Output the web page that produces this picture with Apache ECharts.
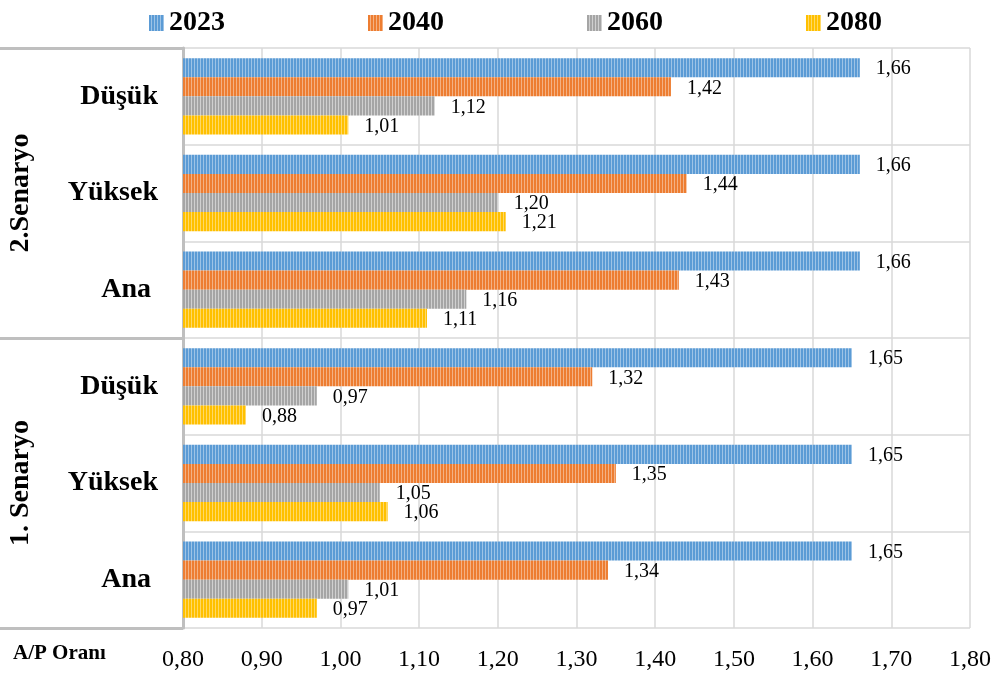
<!DOCTYPE html>
<html>
<head>
<meta charset="utf-8">
<script src="https://cdn.jsdelivr.net/npm/echarts@6/dist/echarts.min.js"></script>
<style>
html,body{margin:0;padding:0;background:#fff;}
#main{width:1002px;height:677px;}
</style>
</head>
<body>
<div id="main"></div>
<script>
// ---- data (categories bottom -> top) ----
var groupNames = ['1. Senaryo', '2.Senaryo'];
var levelNames = ['Ana', 'Yüksek', 'Düşük'];
var seriesNames = ['2023', '2040', '2060', '2080'];
var v2023 = [1.65, 1.65, 1.65, 1.66, 1.66, 1.66];
var v2040 = [1.34, 1.35, 1.32, 1.43, 1.44, 1.42];
var v2060 = [1.01, 1.05, 0.97, 1.16, 1.20, 1.12];
var v2080 = [0.97, 1.06, 0.88, 1.11, 1.21, 1.01];
var xTicks = [0.8, 0.9, 1.0, 1.1, 1.2, 1.3, 1.4, 1.5, 1.6, 1.7, 1.8];
var axisTitle = 'A/P Oranı';

var categories = [];
groupNames.forEach(function (g) {
  levelNames.forEach(function (l) { categories.push(g + '|' + l); });
});
var seriesValues = [v2023, v2040, v2060, v2080];

var baseColors = ['#5B9BD5', '#ED7D31', '#A5A5A5', '#FFC000'];
var lightColors = ['#9DC3E6', '#F4B183', '#D0D0D0', '#FFD966'];

function makePattern(c, l) {
  var cv = document.createElement('canvas');
  cv.width = 3; cv.height = 8;
  var ctx = cv.getContext('2d');
  ctx.fillStyle = c; ctx.fillRect(0, 0, 3, 8);
  ctx.fillStyle = l; ctx.fillRect(2, 0, 1, 8);
  return { image: cv, repeat: 'repeat' };
}

var serif = '"Liberation Serif", "Times New Roman", serif';
function fmt(v) { return Number(v).toFixed(2).replace('.', ','); }

var series = seriesNames.map(function (name, i) {
  return {
    name: name,
    type: 'bar',
    yAxisIndex: 0,
    barGap: '0%',
    barCategoryGap: '21%',
    itemStyle: { color: makePattern(baseColors[i], lightColors[i]) },
    label: {
      show: true, position: 'right', distance: 16, offset: [0, 1.5],
      fontFamily: serif, fontSize: 20, color: '#000',
      formatter: function (p) { return fmt(p.value); }
    },
    data: seriesValues[i]
  };
});

var chart = echarts.init(document.getElementById('main'), null, { renderer: 'canvas' });
chart.setOption({
  animation: false,
  backgroundColor: '#fff',
  legend: {
    data: seriesNames,
    top: 4, left: 144,
    itemWidth: 15, itemHeight: 16, itemGap: 143,
    icon: 'rect',
    textStyle: { fontFamily: serif, fontSize: 28, fontWeight: 'bold', color: '#000', padding: [0, 0, 0, 0] }
  },
  grid: { left: 183, right: 32, top: 48, bottom: 49, containLabel: false },
  xAxis: {
    type: 'value', min: xTicks[0], max: xTicks[xTicks.length - 1], interval: 0.1,
    axisLine: { show: false }, axisTick: { show: false },
    splitLine: { show: true, lineStyle: { color: '#d9d9d9', width: 1.5 } },
    axisLabel: { fontFamily: serif, fontSize: 24, color: '#000', margin: 20, formatter: fmt }
  },
  yAxis: [{
    type: 'category', data: categories,
    axisLine: { show: true, lineStyle: { color: '#bfbfbf', width: 3 } },
    axisTick: { show: false },
    splitLine: { show: true, lineStyle: { color: '#d9d9d9', width: 1.5 } },
    axisLabel: {
      margin: 25, fontFamily: serif, fontSize: 28, fontWeight: 'bold', color: '#000',
      formatter: function (v) {
        var n = v.split('|')[1];
        return n === 'Ana' ? '{a|' + n + '}' : n;
      },
      rich: { a: { fontFamily: serif, fontSize: 28, fontWeight: 'bold', color: '#000', padding: [0, 7, 0, 0] } }
    }
  }, {
    type: 'category', data: groupNames, position: 'left',
    axisLine: { show: false },
    axisTick: { show: true, length: 183, lineStyle: { color: '#bfbfbf', width: 3 } },
    axisLabel: { show: false },
    splitLine: { show: false }
  }],
  series: series
});

var gfx = groupNames.map(function (g) {
  var y = chart.convertToPixel({ yAxisIndex: 1 }, g);
  return {
    type: 'text', x: 21, y: y, rotation: Math.PI / 2,
    style: { text: g, fontFamily: serif, fontSize: 28, fontWeight: 'bold', fill: '#000', align: 'center', verticalAlign: 'middle' }
  };
});
gfx.push({
  type: 'text', left: 13, top: 643,
  style: { text: axisTitle, fontFamily: serif, fontSize: 21, fontWeight: 'bold', fill: '#000' }
});
chart.setOption({ graphic: gfx });
</script>
</body>
</html>
